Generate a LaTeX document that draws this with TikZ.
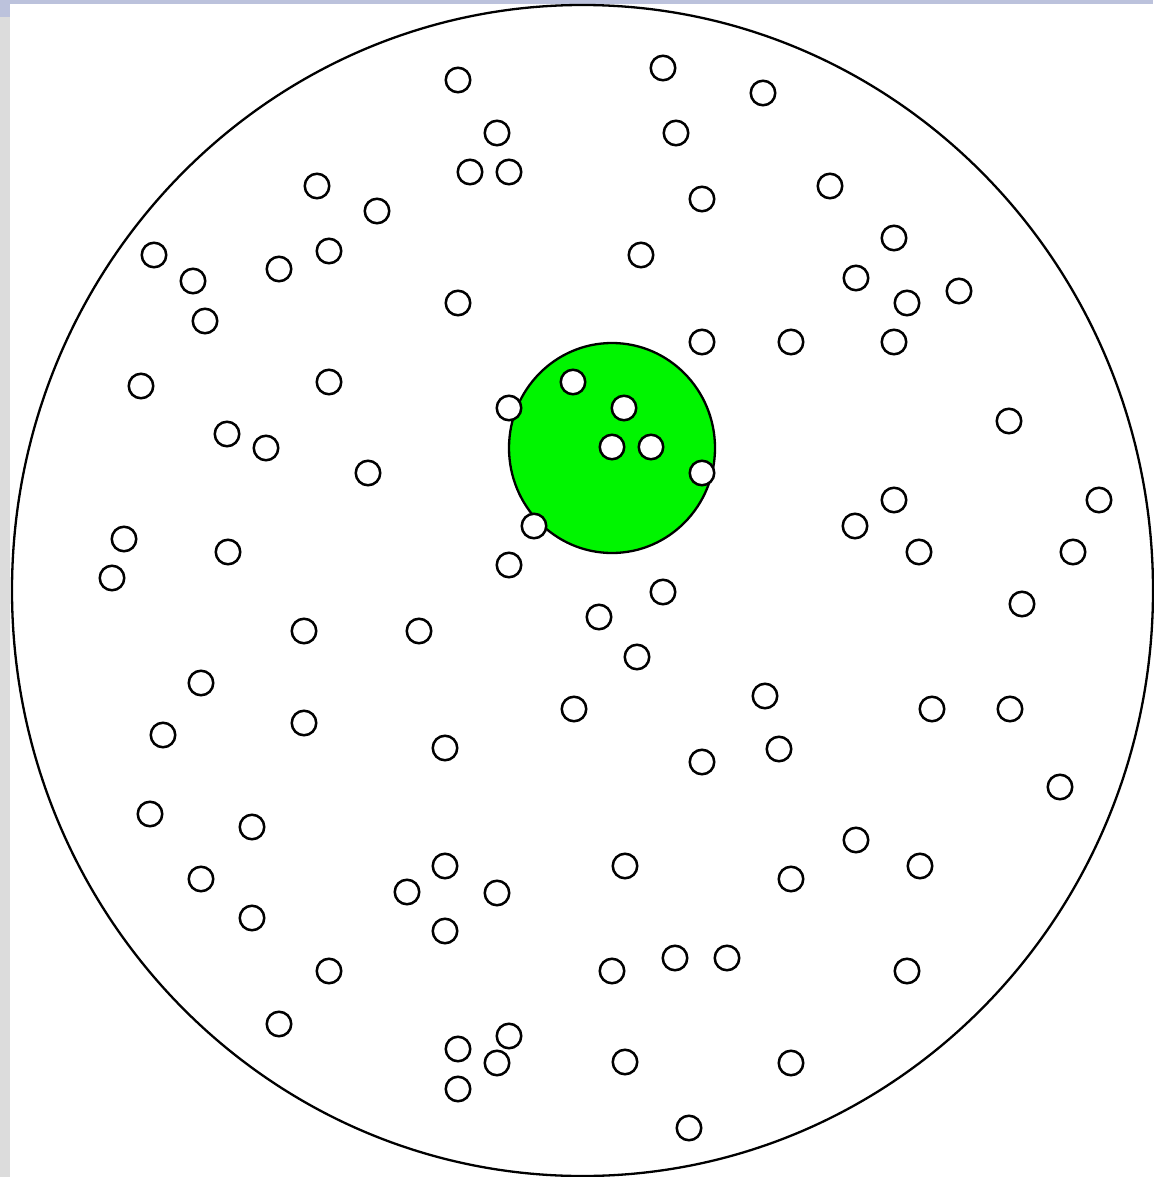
\documentclass[tikz,border=0pt]{standalone}
\begin{document}
\begin{tikzpicture}[x=1pt,y=-1pt,
  dot/.style={circle,draw=black,fill=white,line width=2.5pt,minimum size=24.5pt,inner sep=0pt,outer sep=0pt},
  frameline/.style={draw=black,line width=2.3pt}]
\definecolor{lavender}{RGB}{188,194,220}
\definecolor{sidegray}{RGB}{220,220,220}
\definecolor{zone}{RGB}{0,245,0}
\useasboundingbox (0,0) rectangle (1153,1177);
\fill[white] (0,0) rectangle (1153,1177);
\fill[sidegray] (0,0) rectangle (10,1177);
\fill[lavender] (0,0) rectangle (1153,4);
\fill[lavender] (0,0) rectangle (10,17);
% outer dish
\draw[frameline] (582.5,590.5) ellipse [x radius=570.5, y radius=585.5];
% green zone
\draw[frameline,fill=zone] (612,448) ellipse [x radius=103, y radius=105];
% particles
\foreach \x/\y [count=\i] in {
 458/80, 663/68, 763/93, 497/133, 676/133, 470/172, 509/172,
 317/186, 830/186, 377/211, 702/199,
 154/255, 329/251, 279/269, 641/255, 894/238,
 193/281, 856/278, 907/303, 959/291,
 205/321, 458/303,
 702/342, 791/342, 894/342,
 141/386, 329/382, 573/382,
 509/408, 624/408,
 227/434, 266/448, 1009/421,
 612/447, 651/447,
 368/473, 702/473,
 124/539, 894/500, 1099/500,
 228/552, 534/526, 855/526,
 112/578, 509/565, 919/552, 1073/552,
 663/592, 1022/604,
 304/631, 419/631, 599/617,
 637/657,
 201/683, 765/696,
 163/735, 304/723, 574/709, 932/709, 1010/709,
 445/748, 702/762, 779/749,
 1060/787,
 150/814, 252/827, 856/840,
 201/879, 445/866, 407/892, 497/893, 625/866, 791/879, 920/866,
 252/918, 445/931,
 329/971, 612/971, 675/958, 727/958, 907/971,
 279/1024, 509/1036, 458/1049, 497/1063, 625/1062, 791/1063,
 458/1089,
 689/1128}
 \node[dot] (p\i) at (\x,\y) {};
\end{tikzpicture}
\end{document}
